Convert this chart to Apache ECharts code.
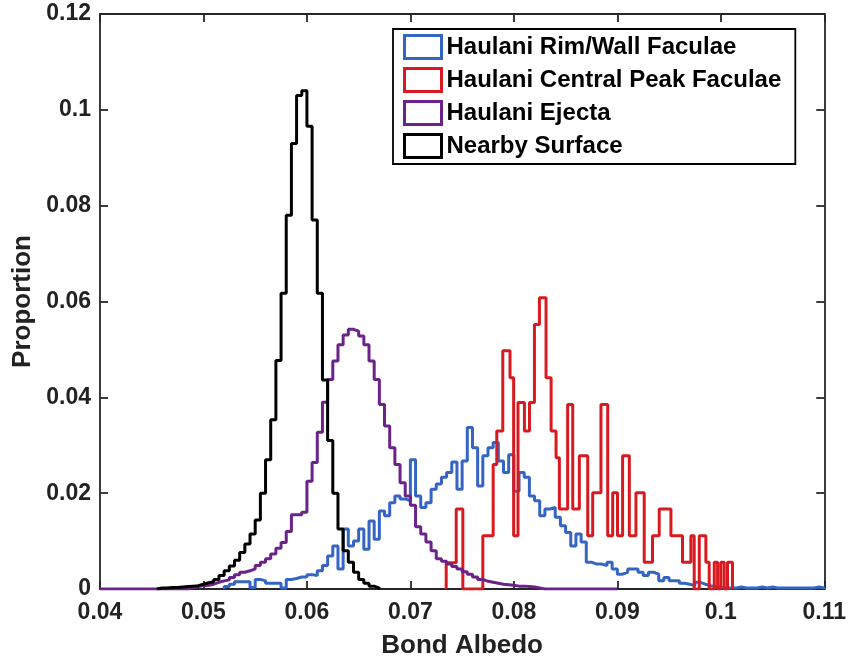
<!DOCTYPE html>
<html>
<head>
<meta charset="utf-8">
<script src="https://cdn.jsdelivr.net/npm/echarts@6/dist/echarts.min.js"></script>
<style>
html,body{margin:0;padding:0;background:#fff;}
#chart{width:849px;height:664px;}
</style>
</head>
<body>
<div id="chart"></div>
<script>
// ---------- data ----------
var seriesNames = ['Haulani Rim/Wall Faculae', 'Haulani Central Peak Faculae', 'Haulani Ejecta', 'Nearby Surface'];
var xTicks = { min: 0.04, max: 0.11, step: 0.01 };
var yTicks = { min: 0, max: 0.12, step: 0.02 };

// Rim/Wall faculae: bins of 0.0005 starting at 0.052
var rimStart = 0.052, rimBin = 0.0005;
var rimValues = [0.0005,0.001,0.0015,0.0015,0.0015,0.0003,0.002,0.0017,0.0012,0.0012,
  0.0012,0.0002,0.002,0.0022,0.0025,0.0025,0.003,0.0028,0.0038,0.0049,
  0.0069,0.009,0.0042,0.0125,0.009,0.010,0.0125,0.0083,0.0142,0.0104,
  0.0163,0.0153,0.018,0.0194,0.0188,0.0184,0.027,0.0194,0.017,0.018,
  0.0208,0.0219,0.0233,0.0243,0.0265,0.0208,0.0267,0.0337,0.0295,0.0215,
  0.0278,0.0295,0.0306,0.0267,0.0243,0.028,0.0204,0.0243,0.0233,0.0194,
  0.0184,0.0153,0.0167,0.017,0.015,0.0132,0.0118,0.009,0.0115,0.0098,
  0.0056,0.0052,0.0052,0.0049,0.0056,0.0042,0.0031,0.0035,0.0042,0.0042,
  0.0035,0.0028,0.0035,0.0031,0.0017,0.0024,0.0017,0.0017,0.0012,0.001,
  0.0007,0.0014,0.001,0.0007,0.0005,0.0003,0.0002,0.0002,0.0002,0.0004,
  0.0002,0.0002,0.0002,0.0004,0.0002,0.0004,0.0002,0.0002,0.0002,0.0002,
  0.0002,0.0002,0.0002,0.0002,0.0004,0.0002];

// Central peak faculae: irregular bin edges
var peakEdges = [0.07346,0.07443,0.07507,0.0770,0.0780,0.07835,0.07893,0.07963,0.07998,0.0804,
  0.08102,0.08151,0.08199,0.08247,0.08311,0.0836,0.08408,0.0844,0.0852,0.08569,
  0.08633,0.08714,0.08762,0.08842,0.08907,0.08955,0.09002,0.09051,0.09116,0.0918,
  0.0926,0.0934,0.09405,0.09518,0.0963,0.09711,0.09743,0.09792,0.09856,0.09888,
  0.09937,0.09969,0.1000,0.10033,0.10065,0.10113];
var peakValues = [0.0055,0.0167,0,0.0111,0.026,0.033,0.0497,0.0441,0.0111,0.0389,
  0.033,0.0389,0.0552,0.0608,0.0441,0.033,0.0274,0.0167,0.0385,0.0167,
  0.0278,0.0111,0.0201,0.0385,0.0111,0.0201,0.0111,0.0278,0.0111,0.0201,
  0.0056,0.0111,0.0167,0.0111,0.0056,0.0111,0,0.0111,0.0056,0,
  0.0056,0,0.0056,0,0.0056];

// Ejecta: bins of 0.0005 starting at 0.040
var ejectaStart = 0.040, ejectaBin = 0.0005;
var ejectaValues = [0,0,0,0,0,0,0,0,0,0,0,0,0,0,0,0,0,
  0.0003,0.0005,0.0007,0.0008,0.001,0.0014,0.0017,0.0019,0.0024,0.003,
  0.0035,0.0038,0.0042,0.0049,0.0056,0.0063,0.0073,0.0085,0.0097,0.012,
  0.0155,0.0155,0.016,0.0225,0.0264,0.0327,0.039,0.0437,0.0476,0.051,
  0.053,0.0542,0.0538,0.0528,0.051,0.0476,0.0437,0.0385,0.034,0.0295,
  0.026,0.0222,0.0194,0.0175,0.013,0.0115,0.0098,0.008,0.0063,0.0058,
  0.0052,0.0047,0.0042,0.0036,0.0031,0.0025,0.002,0.0016,0.0014,0.0012,
  0.001,0.0009,0.0008,0.0006,0.0006,0.0005,0.0004,0.0002,
  0,0,0,0,0,0,0,0,0,0,0,0,0,0,0];

// Nearby surface: bins of 0.0005 starting at 0.0455
var surfStart = 0.0455, surfBin = 0.0005;
var surfValues = [0.0002,0.0002,0.0003,0.0003,0.0004,0.0005,0.0006,0.0007,0.001,0.0013,
  0.0015,0.002,0.0028,0.0038,0.0048,0.006,0.0076,0.0094,0.0115,0.0144,
  0.020,0.027,0.0353,0.0477,0.0617,0.078,0.093,0.103,0.104,0.0966,
  0.077,0.0617,0.0436,0.031,0.020,0.0125,0.008,0.0056,0.0035,0.002,
  0.0012,0.0006,0.0002];

// ---------- helpers ----------
function uniformEdges(start, bin, n) {
  var e = [];
  for (var i = 0; i <= n; i++) e.push(+(start + i * bin).toFixed(6));
  return e;
}
function stairs(edges, values) {
  var pts = [[edges[0], 0]];
  for (var i = 0; i < values.length; i++) pts.push([edges[i], values[i]]);
  pts.push([edges[values.length], 0]);
  return pts;
}

var colors = ['#3565c2', '#d81a20', '#6b2289', '#000000'];
var seriesData = [
  stairs(uniformEdges(rimStart, rimBin, rimValues.length), rimValues),
  stairs(peakEdges, peakValues),
  stairs(uniformEdges(ejectaStart, ejectaBin, ejectaValues.length), ejectaValues),
  stairs(uniformEdges(surfStart, surfBin, surfValues.length), surfValues)
];

var FONT = '"Liberation Sans", Arial, Helvetica, sans-serif';
var axisColor = '#262626';

function mkX(main) {
  return {
    type: 'value', min: xTicks.min, max: xTicks.max, interval: xTicks.step,
    position: main ? 'bottom' : 'top',
    axisLine: { show: true, onZero: false, lineStyle: { color: axisColor, width: 1.8 } },
    axisTick: { show: true, inside: true, length: 8, lineStyle: { color: axisColor, width: 1.8 } },
    axisLabel: { show: main, fontSize: 23, fontWeight: 'bold', color: '#222', fontFamily: FONT, margin: 12 },
    splitLine: { show: false },
    name: main ? 'Bond Albedo' : '',
    nameLocation: 'middle', nameGap: 44,
    nameTextStyle: { fontSize: 26, fontWeight: 'bold', color: '#222', fontFamily: FONT }
  };
}
function mkY(main) {
  return {
    type: 'value', min: yTicks.min, max: yTicks.max, interval: yTicks.step,
    position: main ? 'left' : 'right',
    axisLine: { show: true, onZero: false, lineStyle: { color: axisColor, width: 1.8 } },
    axisTick: { show: true, inside: true, length: 8, lineStyle: { color: axisColor, width: 1.8 } },
    axisLabel: { show: main, fontSize: 23, fontWeight: 'bold', color: '#222', fontFamily: FONT, margin: 9 },
    splitLine: { show: false },
    name: main ? 'Proportion' : '',
    nameLocation: 'middle', nameGap: 63,
    nameTextStyle: { fontSize: 26, fontWeight: 'bold', color: '#222', fontFamily: FONT }
  };
}

var chart = echarts.init(document.getElementById('chart'), null, { renderer: 'canvas' });
chart.setOption({
  animation: false,
  backgroundColor: '#fff',
  grid: { left: 100, right: 24, top: 14, bottom: 74, containLabel: false },
  xAxis: [mkX(true), mkX(false)],
  yAxis: [mkY(true), mkY(false)],
  legend: {
    orient: 'vertical', left: 393, top: 29,
    padding: [5, 14, 5, 10],
    itemWidth: 37, itemHeight: 23, itemGap: 7,
    borderColor: '#000', borderWidth: 1.8, backgroundColor: '#fff',
    icon: 'rect',
    textStyle: { fontSize: 24, fontWeight: 'bold', color: '#000', fontFamily: FONT },
    data: seriesNames.map(function (n, i) {
      return { name: n, icon: 'rect', itemStyle: { color: '#fff', borderColor: colors[i], borderWidth: 3 } };
    })
  },
  series: seriesNames.map(function (n, i) {
    return {
      name: n, type: 'line', step: 'end',
      data: seriesData[i],
      showSymbol: false, symbol: 'none',
      lineStyle: { color: colors[i], width: 3 },
      itemStyle: { color: colors[i] },
      z: 2 + i
    };
  })
});
</script>
</body>
</html>
